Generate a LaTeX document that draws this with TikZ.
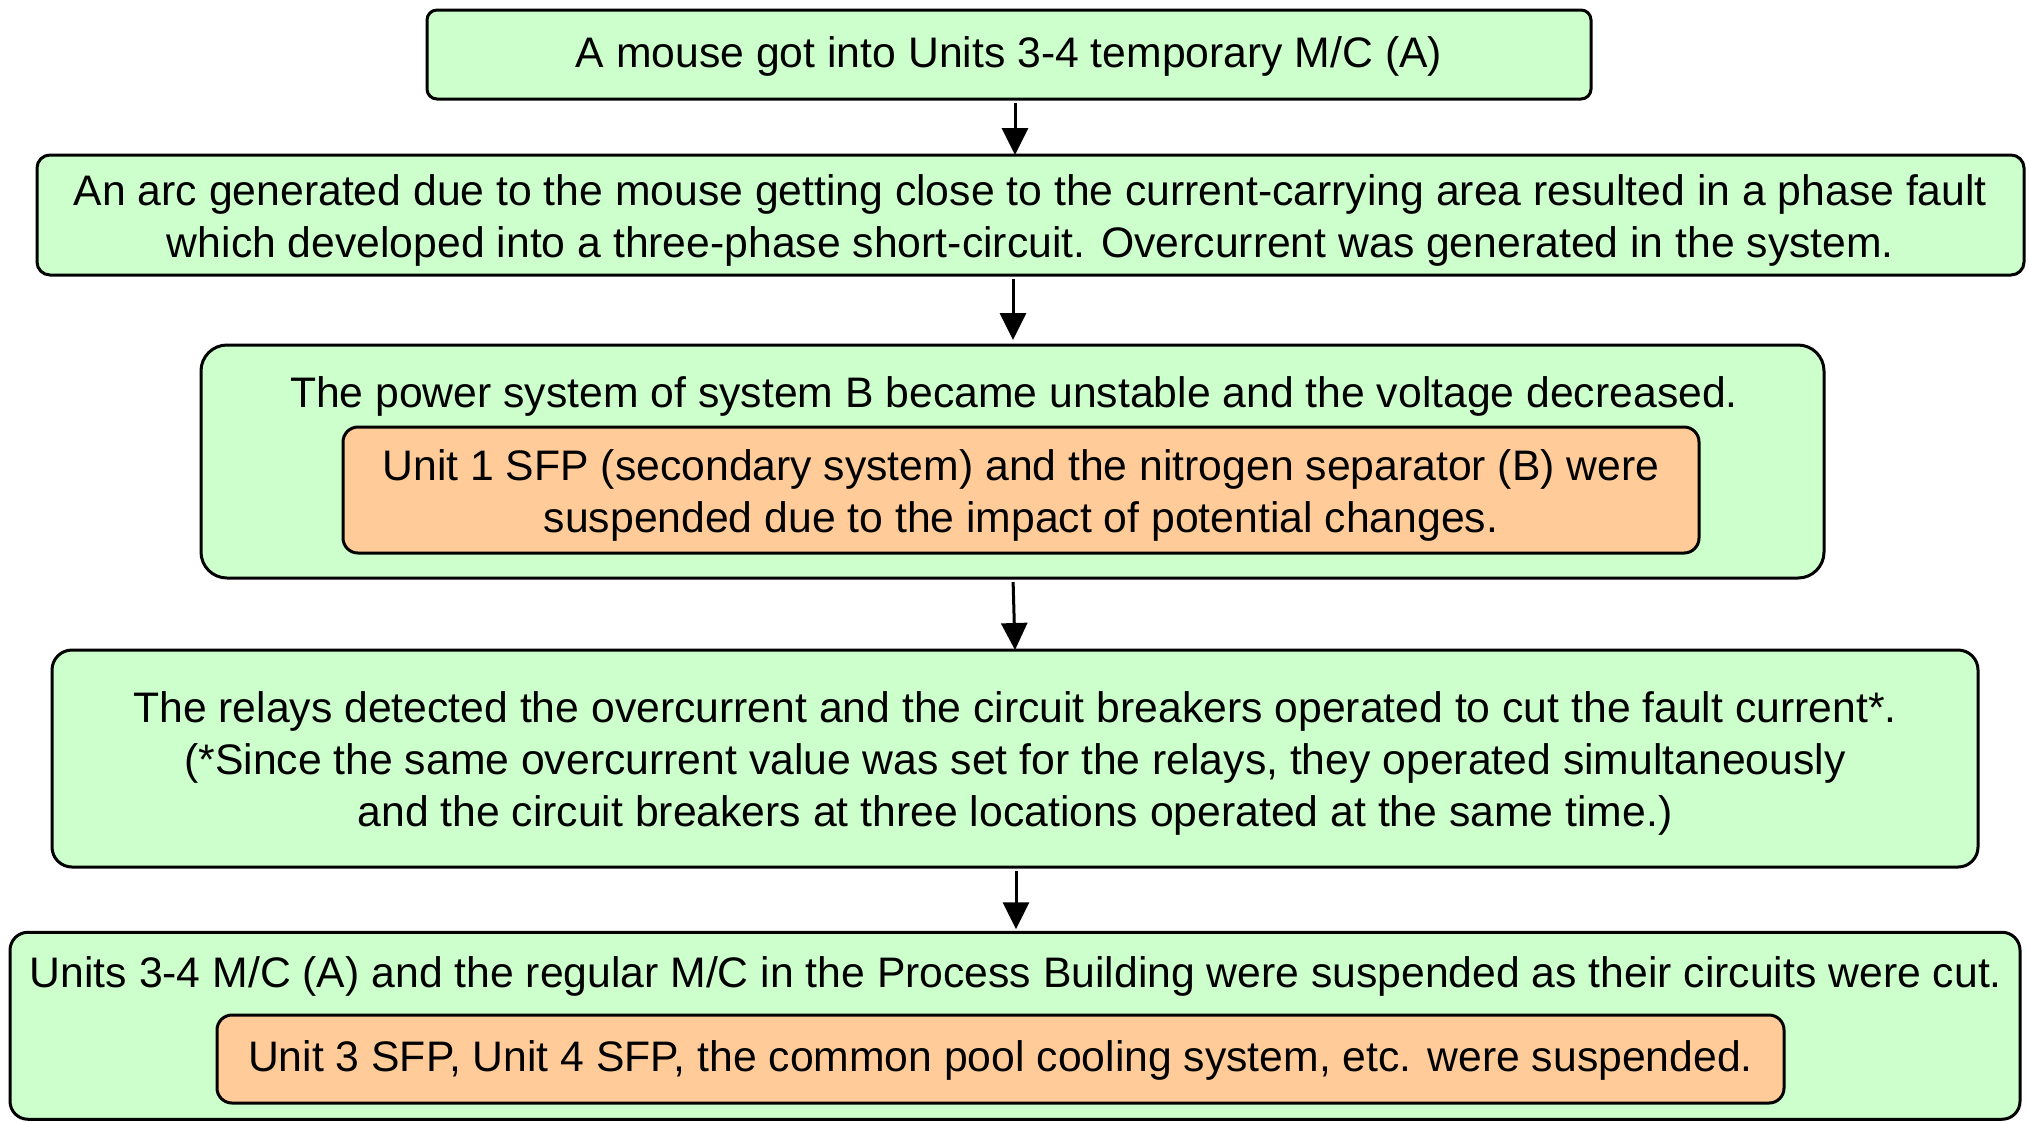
\documentclass[tikz,border=0pt]{standalone}
\usepackage{fontspec}
\setmainfont{Liberation Sans}
\usetikzlibrary{arrows.meta}
\definecolor{boxgreen}{HTML}{CCFFCC}
\definecolor{boxorange}{HTML}{FFCC99}
\begin{document}
\begin{tikzpicture}[x=0.5pt,y=-0.5pt,
  every node/.style={font=\fontsize{21.35pt}{26pt}\selectfont, inner sep=0pt, outer sep=0pt},
  gbox/.style={draw=black, line width=1.5pt, fill=boxgreen},
  obox/.style={draw=black, line width=1.5pt, fill=boxorange, rounded corners=7.5pt},
  plain/.style={align=center},
  arr/.style={line width=1.5pt, -{Triangle[width=13pt,length=13.5pt]}, shorten <=2pt}]
\useasboundingbox (0,0) rectangle (2028,1121);
% boxes
\node[gbox, rounded corners=5pt, minimum width=582pt, minimum height=44.5pt] (b1) at (1009,54.5) {};
\node[plain] (l1) at (1009,56.5) {A mouse got into Units 3-4 temporary M/C (A)};
\node[gbox, rounded corners=6.5pt, minimum width=993.5pt, minimum height=60pt] (b2) at (1030.5,215) {};
\node[plain] (l2) at (1030.5,220)
  {An arc generated due to the mouse getting close to the current-carrying area resulted in a phase fault\\
   which developed into a three-phase short-circuit. Overcurrent was generated in the system.};
\node[gbox, rounded corners=13pt, minimum width=811.5pt, minimum height=116.5pt] (b3) at (1012.5,461.5) {};
\node[plain] (t3) at (1014,396) {The power system of system B became unstable and the voltage decreased.};
\node[obox, minimum width=678pt, minimum height=63pt] (o3) at (1021,490) {};
\node[plain] (l3) at (1021,495)
  {Unit 1 SFP (secondary system) and the nitrogen separator (B) were\\
   suspended due to the impact of potential changes.};
\node[gbox, rounded corners=10pt, minimum width=963pt, minimum height=108.5pt] (b4) at (1015,758.5) {};
\node[plain] (l4) at (1015,763.5)
  {The relays detected the overcurrent and the circuit breakers operated to cut the fault current*.\\
   (*Since the same overcurrent value was set for the relays, they operated simultaneously\\
   and the circuit breakers at three locations operated at the same time.)};
\node[gbox, rounded corners=9pt, minimum width=1005pt, minimum height=93.5pt] (b5) at (1015,1025.75) {};
\node[plain] (t5) at (1016,976) {Units 3-4 M/C (A) and the regular M/C in the Process Building were suspended as their circuits were cut.};
\node[obox, minimum width=783.5pt, minimum height=44pt] (o5) at (1000.5,1059) {};
\node[plain] (l5) at (1000.5,1060)
  {Unit 3 SFP, Unit 4 SFP, the common pool cooling system, etc. were suspended.};
% arrows
\coordinate (x1) at (1015,0);
\coordinate (x2) at (1013,0);
\coordinate (x3a) at (1013,0);
\coordinate (x3b) at (1015,0);
\coordinate (x4) at (1016,0);
\draw[arr] (b1.south -| x1) -- (b2.north -| x1);
\draw[arr] (b2.south -| x2) -- ([yshift=2.5pt]b3.north -| x2);
\draw[arr] (b3.south -| x3a) -- (b4.north -| x3b);
\draw[arr] (b4.south -| x4) -- ([yshift=1.5pt]b5.north -| x4);
\end{tikzpicture}
\end{document}
